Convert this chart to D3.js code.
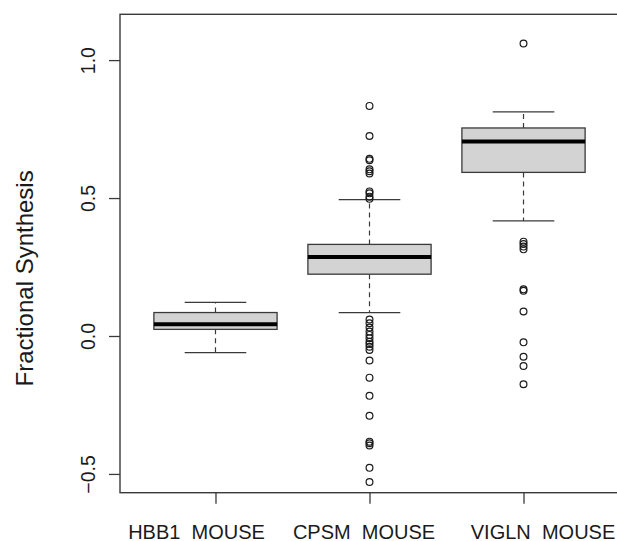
<!DOCTYPE html>
<html>
<head>
<meta charset="utf-8">
<script src="https://cdn.jsdelivr.net/npm/d3@7"></script>
<style>
  html, body { margin: 0; padding: 0; background: #fff; }
  svg { display: block; }
  text { font-family: "Liberation Sans", Arial, sans-serif; fill: #1a1a1a; }
</style>
</head>
<body>
<script>
// Protein names along the x axis
const categories = ["HBB1  MOUSE", "CPSM  MOUSE", "VIGLN  MOUSE"];

// Five-number summaries: lower whisker, Q1, median, Q3, upper whisker
const whiskerLow  = [-0.060, 0.085, 0.417];
const quartile1   = [0.024, 0.224, 0.593];
const medians     = [0.043, 0.286, 0.705];
const quartile3   = [0.085, 0.332, 0.754];
const whiskerHigh = [0.122, 0.494, 0.812];

// Points beyond the whiskers, per protein
const outliersHBB1 = [];
const outliersCPSM = [0.834, 0.725, 0.642, 0.637, 0.604, 0.597, 0.589, 0.524, 0.517, 0.505, 0.497,
  0.060, 0.046, 0.031, 0.016, 0.004, -0.008, -0.021, -0.029, -0.039, -0.051, -0.089,
  -0.151, -0.217, -0.289, -0.383, -0.389, -0.397, -0.478, -0.529];
const outliersVIGLN = [1.060, 0.342, 0.333, 0.324, 0.314, 0.169, 0.164, 0.089, -0.023, -0.075, -0.109, -0.175];
const outliers = [outliersHBB1, outliersCPSM, outliersVIGLN];

const yTicks = [-0.5, 0.0, 0.5, 1.0];
const yTitle = "Fractional Synthesis";

const W = 617, H = 541;
const svg = d3.select("body").append("svg").attr("width", W).attr("height", H);

// Positions 1..n with a margin of 0.62 on each side
const x = d3.scaleLinear().domain([0.38, categories.length + 0.62]).range([120, 619]);
const y = d3.scaleLinear().domain([-0.568, 1.166]).range([492.7, 14.3]);

const stats = categories.map((c, i) => ({
  name: c, pos: i + 1,
  lo: whiskerLow[i], q1: quartile1[i], med: medians[i], q3: quartile3[i], hi: whiskerHigh[i],
  out: outliers[i]
}));

const boxHalf = 0.4, capHalf = 0.2;
const ink = "#3a3a3a";

const g = svg.append("g");

stats.forEach(s => {
  const gb = g.append("g");
  // dashed whiskers
  gb.append("line").attr("x1", x(s.pos)).attr("x2", x(s.pos))
    .attr("y1", y(s.q3)).attr("y2", y(s.hi))
    .attr("stroke", ink).attr("stroke-width", 1.2).attr("stroke-dasharray", "5,4");
  gb.append("line").attr("x1", x(s.pos)).attr("x2", x(s.pos))
    .attr("y1", y(s.q1)).attr("y2", y(s.lo))
    .attr("stroke", ink).attr("stroke-width", 1.2).attr("stroke-dasharray", "5,4");
  // staples
  [s.lo, s.hi].forEach(v => {
    gb.append("line").attr("x1", x(s.pos - capHalf)).attr("x2", x(s.pos + capHalf))
      .attr("y1", y(v)).attr("y2", y(v))
      .attr("stroke", ink).attr("stroke-width", 1.3);
  });
  // box
  gb.append("rect")
    .attr("x", x(s.pos - boxHalf)).attr("width", x(s.pos + boxHalf) - x(s.pos - boxHalf))
    .attr("y", y(s.q3)).attr("height", y(s.q1) - y(s.q3))
    .attr("fill", "#d3d3d3").attr("stroke", ink).attr("stroke-width", 1.3);
  // median
  gb.append("line").attr("x1", x(s.pos - boxHalf)).attr("x2", x(s.pos + boxHalf))
    .attr("y1", y(s.med)).attr("y2", y(s.med))
    .attr("stroke", "#000").attr("stroke-width", 4);
  // outliers
  gb.selectAll("circle").data(s.out).join("circle")
    .attr("cx", x(s.pos)).attr("cy", d => y(d)).attr("r", 3.4)
    .attr("fill", "none").attr("stroke", "#1a1a1a").attr("stroke-width", 1.2);
});

// plot frame
svg.append("rect").attr("x", 120).attr("y", 14.3)
  .attr("width", 619 - 120).attr("height", 492.7 - 14.3)
  .attr("fill", "none").attr("stroke", ink).attr("stroke-width", 1.4);

// y axis
const yAxis = svg.append("g").attr("transform", "translate(120,0)")
  .call(d3.axisLeft(y).tickValues(yTicks).tickSize(11).tickFormat(d3.format(".1f")));
yAxis.select(".domain").remove();
yAxis.selectAll(".tick line").attr("stroke", ink).attr("stroke-width", 1.3);
yAxis.selectAll(".tick text")
  .attr("x", null).attr("dy", null)
  .attr("transform", "translate(-25,0) rotate(-90)")
  .attr("text-anchor", "middle")
  .attr("font-size", "19.5px")
  .text(d => d3.format(".1f")(d).replace("-", "-"));

// x axis
const xAxis = svg.append("g").attr("transform", "translate(0,492.7)")
  .call(d3.axisBottom(x).tickValues(stats.map(s => s.pos)).tickSize(11).tickFormat(d => categories[d - 1]));
xAxis.select(".domain").remove();
xAxis.selectAll(".tick line").attr("stroke", ink).attr("stroke-width", 1.3);
const labelShift = [-19.5, -6, 19];
xAxis.selectAll(".tick text")
  .attr("y", 46).attr("dy", null)
  .attr("dx", (d, i) => labelShift[i])
  .attr("font-size", "20px")
  .style("white-space", "pre")
  .attr("xml:space", "preserve");

// y axis title
svg.append("text")
  .attr("transform", `translate(33,${(170 + 386.7) / 2}) rotate(-90)`)
  .attr("text-anchor", "middle")
  .attr("font-size", "24px")
  .text(yTitle);
</script>
</body>
</html>
